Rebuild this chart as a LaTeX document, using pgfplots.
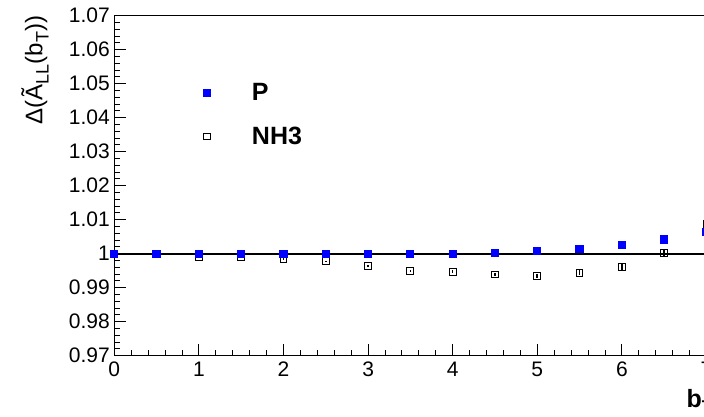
\documentclass[border=0pt]{standalone}
\usepackage{fontspec}
\setmainfont{Liberation Sans}
\usepackage{pgfplots}
\usepackage{pgfplotstable}
\pgfplotsset{compat=1.18}

\pgfplotstableread{
x y e
0 1.0000 0.0001
0.5 1.0000 0.0001
1 0.9998 0.0001
1.5 0.9998 0.0002
2 0.9998 0.0002
2.5 0.9998 0.0002
3 0.9998 0.0002
3.5 0.9998 0.0003
4 1.0000 0.0003
4.5 1.0003 0.0003
5 1.0009 0.0004
5.5 1.0014 0.0006
6 1.0026 0.0007
6.5 1.0042 0.0009
7 1.0063 0.0011
}\datP

\pgfplotstableread{
x y e
0 1.0000 0.0001
0.5 1.0000 0.0001
1 0.9991 0.0002
1.5 0.9989 0.0002
2 0.9984 0.0002
2.5 0.9978 0.0002
3 0.9965 0.0003
3.5 0.9949 0.0003
4 0.9947 0.0004
4.5 0.9939 0.0005
5 0.9934 0.0006
5.5 0.9944 0.0007
6 0.9961 0.0008
6.5 1.0003 0.0010
7 1.0087 0.0012
}\datN

\begin{document}
\begin{tikzpicture}
\begin{axis}[
  scale only axis, width=609.1pt, height=340pt,
  xmin=0, xmax=7.2, ymin=0.97, ymax=1.07,
  axis line style={line width=1pt},
  tick style={black, line width=0.9pt},
  tick align=inside,
  major tick length=12pt, minor tick length=6pt,
  xtick pos=left, ytick pos=left,
  xtick={0,1,2,3,4,5,6,7}, minor x tick num=4,
  ytick={0.97,0.98,0.99,1,1.01,1.02,1.03,1.04,1.05,1.06,1.07}, minor y tick num=4,
  yticklabels={0.97,0.98,0.99,1,1.01,1.02,1.03,1.04,1.05,1.06,1.07},
  /pgf/number format/assume math mode=true,
  ticklabel style={font=\fontsize{21}{25}\selectfont},
  xticklabel style={yshift=-3pt},
  yticklabel style={xshift=-1pt},
  xlabel={\textbf{b\raisebox{-0.35ex}{\fontsize{17}{20}\selectfont T}}},
  xlabel style={at={(axis description cs:0.9338,0)}, anchor=base west, yshift=-52pt, font=\fontsize{25}{30}\selectfont},
  ylabel={Δ(Ã\raisebox{-0.5ex}{\fontsize{18}{20}\selectfont LL}(b\raisebox{-0.5ex}{\fontsize{18}{20}\selectfont T}))},
  ylabel style={at={(axis description cs:-0.1182,1)}, anchor=base east, inner sep=0pt, font=\fontsize{24}{28}\selectfont},
  legend style={draw=none, fill=none, at={(axis cs:1.02,1.0409)}, anchor=west,
    font=\fontsize{25}{30}\selectfont\bfseries, row sep=21pt,
    /tikz/every even column/.append style={column sep=0pt}},
  legend cell align=left,
  legend image code/.code={\draw[#1] plot coordinates {(0pt,0pt)};},
  reverse legend,
]
\addplot[black, line width=2pt, forget plot] coordinates {(0,1) (7.2,1)};
\addplot[only marks, black, mark=square, mark size=3.4pt, mark options={line width=1pt, fill=white},
  error bars/.cd, y dir=both, y explicit, error mark=none,
  error bar style={line width=1.6pt, black}]
  table[x=x, y=y, y error=e] {\datN};
\addlegendentry{\hspace{39pt}NH3}
\addplot[only marks, blue, mark=square*, mark size=3.6pt, mark options={line width=0pt, fill=blue},
  error bars/.cd, y dir=both, y explicit, error mark=none,
  error bar style={line width=3pt, blue}]
  table[x=x, y=y, y error=e] {\datP};
\addlegendentry{\hspace{39pt}P}
\end{axis}
\pgfresetboundingbox
\useasboundingbox (-114.3pt,-60.3pt) rectangle (589.7pt,355.7pt);
\end{tikzpicture}
\end{document}
